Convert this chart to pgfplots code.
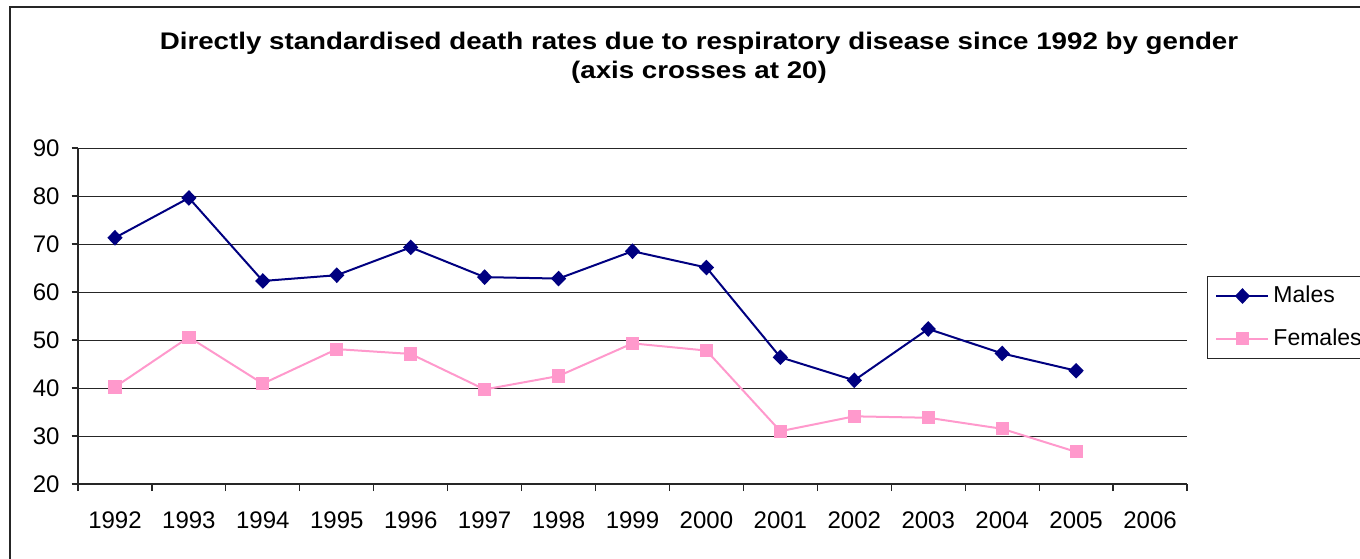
\documentclass[border=0pt]{standalone}
\usepackage{fontspec}
\setmainfont{Liberation Sans}
\usepackage{graphicx}
\usepackage{pgfplots}
\pgfplotsset{compat=1.18}
\definecolor{navyc}{HTML}{000080}
\definecolor{pinkc}{HTML}{FF99CC}
\pgfplotstableread{
x males females
0 71.3 40.2
1 79.6 50.6
2 62.3 40.9
3 63.5 48.1
4 69.3 47.1
5 63.1 39.7
6 62.8 42.5
7 68.5 49.3
8 65.1 47.8
9 46.4 31.0
10 41.6 34.1
11 52.3 33.8
12 47.2 31.5
13 43.6 26.7
}\datatable
\begin{document}
\begin{tikzpicture}
\useasboundingbox (0pt,0pt) rectangle (680pt,279pt);
\draw[line width=0.8pt, black!85] (5pt,-20pt) -- (5pt,275.5pt) -- (720pt,275.5pt);
\node[anchor=base, font=\bfseries\fontsize{12}{14}\selectfont, inner sep=0pt] at (349.5pt,254pt) {\scalebox{1.155}[1]{Directly standardised death rates due to respiratory disease since 1992 by gender}};
\node[anchor=base, font=\bfseries\fontsize{12}{14}\selectfont, inner sep=0pt] at (349.5pt,239.5pt) {\scalebox{1.155}[1]{(axis crosses at 20)}};
\begin{axis}[
  at={(39pt,37pt)}, anchor=south west,
  scale only axis, width=554.5pt, height=168pt,
  xmin=-0.5, xmax=14.5, ymin=20, ymax=90,
  xtick={0,...,14},
  xticklabels={1992,1993,1994,1995,1996,1997,1998,1999,2000,2001,2002,2003,2004,2005,2006},
  minor xtick={-0.5,0.5,...,14.5},
  ytick={20,30,...,90},
  axis x line*=bottom, axis y line*=left,
  axis line style={-, black!85, line width=0.6pt},
  tick align=outside,
  major tick length=3.2pt, minor tick length=3.5pt,
  major x tick style={draw=none},
  tick style={black!85, line width=0.6pt},
  ymajorgrids, major grid style={black!85, line width=0.5pt},
  tick label style={font=\fontsize{12}{14}\selectfont},
  xticklabel style={yshift=-7pt},
  yticklabel style={xshift=-2.5pt},
  /pgf/number format/assume math mode=true,
  clip=false,
  legend style={at={(1.018,0.620)}, anchor=north west, draw=black!85, line width=0.5pt,
    font=\fontsize{11.5}{13}\selectfont, inner xsep=4pt, inner ysep=3pt, row sep=7.5pt},
  legend cell align=left,
  legend image code/.code={\draw[mark repeat=2,mark phase=2] plot coordinates {(0pt,0pt) (13pt,0pt) (26pt,0pt)};},
]
\addplot[navyc, line width=1pt, mark=diamond*, mark size=3.2pt, mark options={xscale=1.3, solid, fill=navyc}] table[x=x, y=males] {\datatable};
\addlegendentry{Males}
\addplot[pinkc, line width=1pt, mark=square*, mark size=2.8pt, mark options={solid, fill=pinkc}] table[x=x, y=females] {\datatable};
\addlegendentry{Females}
\end{axis}
\end{tikzpicture}
\end{document}
